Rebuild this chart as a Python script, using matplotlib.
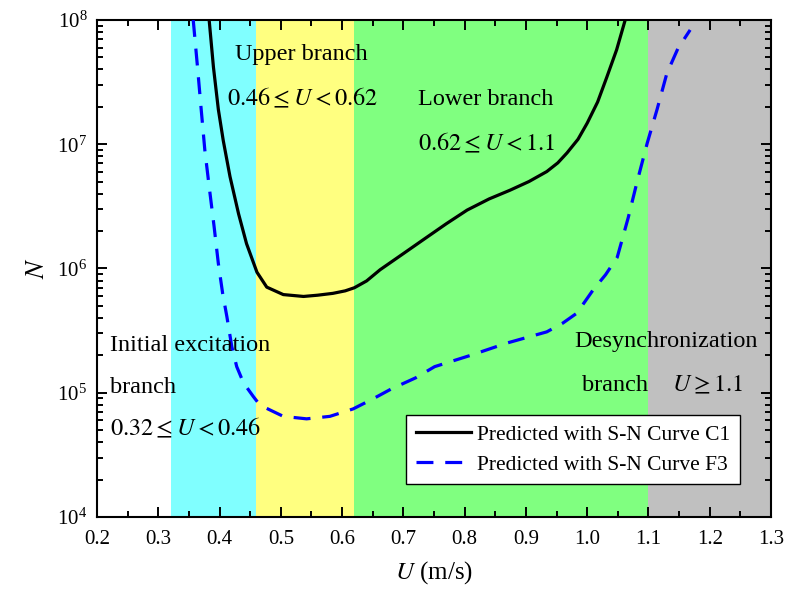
import numpy as np
import matplotlib
matplotlib.use("Agg")
import matplotlib.pyplot as plt
from matplotlib.ticker import MultipleLocator, LogLocator, NullFormatter

plt.rcParams['font.family'] = ['Liberation Serif', 'DejaVu Serif']
plt.rcParams['mathtext.fontset'] = 'stix'

# fatigue life vs. flow velocity, log10(N)
u_c1 = [0.383, 0.390, 0.398, 0.406, 0.417, 0.431, 0.444, 0.461, 0.477, 0.504,
        0.537, 0.560, 0.585, 0.605, 0.620, 0.640, 0.662, 0.700, 0.732, 0.770,
        0.804, 0.840, 0.874, 0.905, 0.934, 0.952, 0.967, 0.985, 1.000, 1.017,
        1.032, 1.048, 1.062]
logN_c1 = [8.00, 7.62, 7.28, 7.03, 6.74, 6.44, 6.20, 5.97, 5.85, 5.79,
           5.775, 5.785, 5.80, 5.82, 5.845, 5.90, 5.99, 6.12, 6.23, 6.36,
           6.47, 6.56, 6.63, 6.70, 6.78, 6.85, 6.93, 7.04, 7.17, 7.34,
           7.54, 7.76, 8.00]

u_f3 = [0.357, 0.364, 0.370, 0.376, 0.383, 0.391, 0.398, 0.405, 0.412, 0.420,
        0.428, 0.439, 0.455, 0.466, 0.504, 0.542, 0.580, 0.618, 0.650, 0.680,
        0.720, 0.751, 0.809, 0.869, 0.934, 0.960, 0.983, 1.010, 1.030, 1.049,
        1.067, 1.081, 1.098, 1.114, 1.130, 1.148, 1.168]
logN_f3 = [8.00, 7.62, 7.28, 6.95, 6.66, 6.34, 6.04, 5.80, 5.61, 5.37,
           5.21, 5.08, 4.97, 4.90, 4.81, 4.79, 4.81, 4.87, 4.95, 5.03,
           5.12, 5.21, 5.30, 5.40, 5.49, 5.56, 5.64, 5.83, 5.95, 6.09,
           6.41, 6.69, 7.01, 7.28, 7.57, 7.77, 7.92]

# branch regions
band_edges = [(0.32, 0.46), (0.46, 0.62), (0.62, 1.1), (1.1, 1.3)]
band_colors = ['#80FFFF', '#FFFF80', '#80FF80', '#C0C0C0']

fig = plt.figure(figsize=(7.85, 5.91), dpi=100)
ax = fig.add_axes([0.1236, 0.1252, 0.8586, 0.8410])

for (a, b), c in zip(band_edges, band_colors):
    ax.axvspan(a, b, color=c, lw=0, zorder=0)

ax.plot(u_c1, 10 ** np.array(logN_c1), color='black', lw=2.3,
        label='Predicted with S-N Curve C1', zorder=3)
ax.plot(u_f3, 10 ** np.array(logN_f3), color='blue', lw=2.3,
        dashes=(5.3, 3.7), label='Predicted with S-N Curve F3', zorder=3)

ax.set_yscale('log')
ax.set_xlim(0.2, 1.3)
ax.set_ylim(1e4, 1e8)

ax.xaxis.set_major_locator(MultipleLocator(0.1))
ax.xaxis.set_minor_locator(MultipleLocator(0.05))
ax.yaxis.set_major_locator(LogLocator(base=10, numticks=10))
ax.yaxis.set_minor_locator(LogLocator(base=10, subs=np.arange(2, 10), numticks=10))
ax.yaxis.set_minor_formatter(NullFormatter())
ax.xaxis.set_major_formatter(plt.FuncFormatter(lambda v, p: f'{v:.1f}'))

ax.tick_params(which='both', direction='in', top=True, right=True, width=1.4)
ax.tick_params(which='major', length=7, labelsize=15, pad=7)
ax.tick_params(axis='x', which='major', pad=9)
ax.tick_params(which='minor', length=4.5)
for s in ax.spines.values():
    s.set_linewidth(1.5)

ax.set_xlabel(r'$U$ (m/s)', fontsize=18, labelpad=8)
ax.set_ylabel(r'$N$', fontsize=19, labelpad=6)

tk = dict(fontsize=17.5, zorder=4)
ax.text(0.533, 10 ** 7.72, 'Upper branch', ha='center', va='center', **tk)
ax.text(0.536, 10 ** 7.37, r'$0.46 \leq U < 0.62$', ha='center', va='center', **tk)
ax.text(0.724, 10 ** 7.36, 'Lower branch', ha='left', va='center', **tk)
ax.text(0.724, 10 ** 7.01, r'$0.62 \leq U < 1.1$', ha='left', va='center', **tk)
ax.text(0.221, 10 ** 5.38, 'Initial excitation', ha='left', va='center', **tk)
ax.text(0.221, 10 ** 5.04, 'branch', ha='left', va='center', **tk)
ax.text(0.221, 10 ** 4.71, r'$0.32 \leq U < 0.46$', ha='left', va='center', **tk)
ax.text(1.279, 10 ** 5.41, 'Desynchronization', ha='right', va='center', **tk)
ax.text(1.045, 10 ** 5.06, 'branch', ha='center', va='center', **tk)
ax.text(1.197, 10 ** 5.06, r'$U \geq 1.1$', ha='center', va='center', **tk)

leg = ax.legend(loc='lower right', bbox_to_anchor=(0.954, 0.066), fontsize=15.5,
                frameon=True, fancybox=False, edgecolor='black',
                framealpha=1, handlelength=2.55, borderpad=0.45,
                labelspacing=0.45, handletextpad=0.3, borderaxespad=0)
leg.get_frame().set_linewidth(1.0)
leg.set_zorder(5)

fig.savefig('out.png', dpi=100)
